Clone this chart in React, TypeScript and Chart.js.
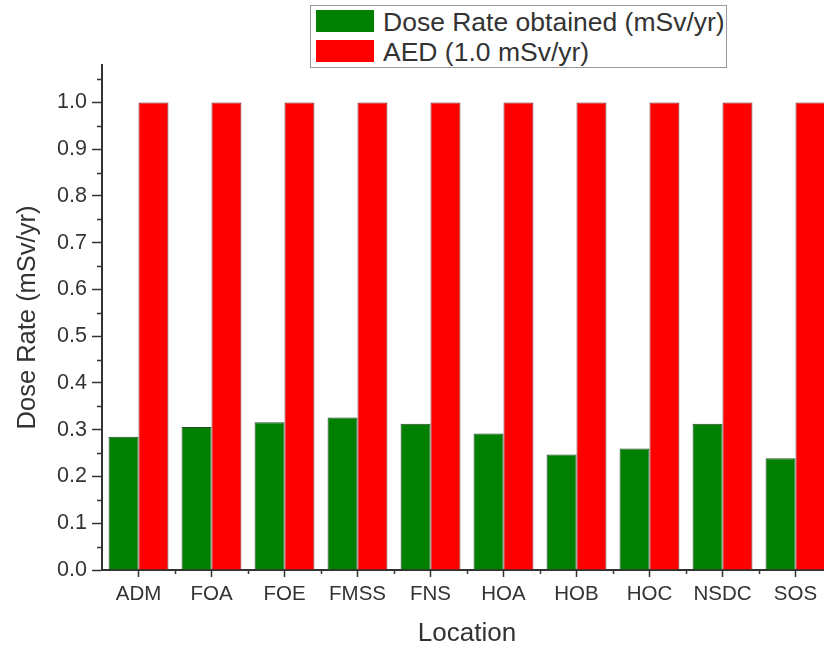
import React, { useEffect, useRef } from "react";
import { Chart, registerables } from "chart.js";

Chart.register(...registerables);

const categories = ["ADM", "FOA", "FOE", "FMSS", "FNS", "HOA", "HOB", "HOC", "NSDC", "SOS"];
const doseRate = [0.285, 0.306, 0.316, 0.326, 0.313, 0.292, 0.247, 0.26, 0.313, 0.239];
const aed = [1.0, 1.0, 1.0, 1.0, 1.0, 1.0, 1.0, 1.0, 1.0, 1.0];
const seriesLabels = ["Dose Rate obtained (mSv/yr)", "AED (1.0 mSv/yr)"];
const yMinorTicks = [0.05, 0.15, 0.25, 0.35, 0.45, 0.55, 0.65, 0.75, 0.85, 0.95, 1.05];

const GREEN = "#007f00";
const RED = "#ff0000";
const AXIS = "#333333";
const FONT = "'Liberation Sans', Arial, sans-serif";

const minorTicks = {
  id: "minorTicks",
  afterDraw(chart: any) {
    const { ctx, chartArea, scales } = chart;
    const y = scales.y;
    const x = scales.x;
    ctx.save();
    ctx.strokeStyle = AXIS;
    ctx.lineWidth = 1.5;
    ctx.beginPath();
    for (const v of yMinorTicks) {
      const py = Math.round(y.getPixelForValue(v)) + 0.5;
      ctx.moveTo(chartArea.left - 5, py);
      ctx.lineTo(chartArea.left, py);
    }
    for (let i = 0; i < categories.length; i++) {
      const px = Math.round(x.getPixelForValue(i) + (x.getPixelForValue(1) - x.getPixelForValue(0)) / 2) + 0.5;
      ctx.moveTo(px, chartArea.bottom);
      ctx.lineTo(px, chartArea.bottom + 4);
    }
    ctx.stroke();
    ctx.restore();
  },
};

export default function App() {
  const ref = useRef<HTMLCanvasElement | null>(null);

  useEffect(() => {
    if (!ref.current) return;
    const chart = new Chart(ref.current, {
      type: "bar",
      data: {
        labels: categories,
        datasets: [
          {
            label: seriesLabels[0],
            data: doseRate,
            backgroundColor: GREEN,
            borderColor: "rgba(0,40,0,0.85)",
            borderWidth: 1,
            categoryPercentage: 0.82,
            barPercentage: 1.0,
          },
          {
            label: seriesLabels[1],
            data: aed,
            backgroundColor: RED,
            borderColor: "rgba(90,0,0,0.85)",
            borderWidth: 1,
            categoryPercentage: 0.82,
            barPercentage: 1.0,
          },
        ],
      },
      options: {
        animation: false,
        responsive: false,
        devicePixelRatio: 1,
        layout: { padding: { top: 65, right: 18, left: 0, bottom: 0 } },
        plugins: { legend: { display: false }, tooltip: { enabled: false } },
        scales: {
          x: {
            offset: true,
            grid: {
              offset: false,
              drawOnChartArea: false,
              drawTicks: true,
              tickLength: 7,
              tickColor: AXIS,
              tickWidth: 1.5,
            },
            border: { color: AXIS, width: 2 },
            ticks: {
              color: "#333",
              font: { family: FONT, size: 20.5 },
              padding: 5,
              maxRotation: 0,
              autoSkip: false,
            },
            title: {
              display: true,
              text: "Location",
              color: "#333",
              font: { family: FONT, size: 26 },
              padding: { top: 0, bottom: 0 },
            },
            afterFit(scale: any) {
              scale.height = 79;
            },
          },
          y: {
            min: 0,
            max: 1.08,
            grid: {
              drawOnChartArea: false,
              drawTicks: true,
              tickLength: 10,
              tickColor: AXIS,
              tickWidth: 1.5,
            },
            border: { color: AXIS, width: 2 },
            ticks: {
              stepSize: 0.1,
              includeBounds: false,
              color: "#333",
              font: { family: FONT, size: 21.5 },
              padding: 5,
              callback: (v: any) => Number(v).toFixed(1),
            },
            title: {
              display: true,
              text: "Dose Rate (mSv/yr)",
              color: "#333",
              font: { family: FONT, size: 25.5 },
              padding: { top: 13, bottom: 0 },
            },
            afterFit(scale: any) {
              scale.width = 102;
            },
          },
        },
      },
      plugins: [minorTicks],
    });
    return () => chart.destroy();
  }, []);

  const legendText: React.CSSProperties = {
    position: "absolute",
    left: 72,
    fontFamily: FONT,
    fontSize: 26.5,
    color: "#333",
    lineHeight: "30px",
    whiteSpace: "nowrap",
  };

  return (
    <div
      style={{
        position: "fixed",
        left: 0,
        top: 0,
        width: 824,
        height: 649,
        overflow: "hidden",
        background: "#fff",
      }}
    >
      <canvas ref={ref} width={850} height={649} style={{ display: "block", width: 850, height: 649 }} />
      <div
        style={{
          position: "absolute",
          left: 310,
          top: 5,
          width: 415,
          height: 61,
          border: "1px solid #999",
          background: "#fff",
        }}
      >
        <div style={{ position: "absolute", left: 5, top: 4, width: 58, height: 22, background: GREEN }} />
        <div style={{ ...legendText, top: 1 }}>{seriesLabels[0]}</div>
        <div style={{ position: "absolute", left: 5, top: 34, width: 58, height: 22, background: RED }} />
        <div style={{ ...legendText, top: 31 }}>{seriesLabels[1]}</div>
      </div>
    </div>
  );
}
